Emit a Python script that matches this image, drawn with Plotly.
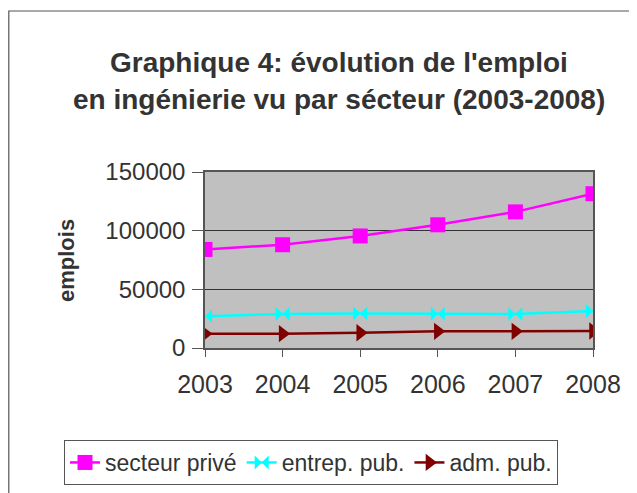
import plotly.graph_objects as go

years = ["2003", "2004", "2005", "2006", "2007", "2008"]
prive = [84000, 88000, 95500, 105000, 116000, 131500]
entrep = [27000, 29000, 29500, 29200, 29000, 31500]
adm = [12200, 12200, 13000, 14200, 14200, 14500]
y_ticks = [0, 50000, 100000, 150000]

# page body has an 8px margin; layout is computed in screen pixels then shifted
OFF = 8
W, H = 637, 493
L, R, T, B = 205 - OFF, 637 - (593 - OFF), 172 - OFF, 493 - (348 - OFF)
pw, ph = W - L - R, H - T - B

def px_x(p):
    return (p - OFF - L) / pw

def px_y(p):
    return (H - B - (p - OFF)) / ph

fig = go.Figure()
fig.add_trace(go.Scatter(x=years, y=prive, name="secteur privé", mode="lines+markers",
                         line=dict(color="#ff00ff", width=2.5),
                         marker=dict(symbol="square", size=15, color="#ff00ff")))
fig.add_trace(go.Scatter(x=years, y=entrep, name="entrep. pub.", mode="lines+markers",
                         line=dict(color="#00ffff", width=2.5),
                         marker=dict(symbol="bowtie", size=14, color="#00ffff")))
fig.add_trace(go.Scatter(x=years, y=adm, name="adm. pub.", mode="lines+markers",
                         line=dict(color="#800000", width=2.5),
                         marker=dict(symbol="triangle-right", size=15, color="#800000")))

font = "Liberation Sans, Arial, sans-serif"
fig.update_layout(
    width=W, height=H,
    margin=dict(l=L, r=R, t=T, b=B),
    paper_bgcolor="white", plot_bgcolor="#c0c0c0",
    font=dict(family=font, color="#333333", size=22),
    showlegend=True,
    legend=dict(orientation="h", x=px_x(64), y=px_y(440), xanchor="left", yanchor="top",
                bordercolor="#555555", borderwidth=1, font=dict(size=23, color="#333333"),
                itemwidth=30, tracegroupgap=0),
    xaxis=dict(type="category", range=[0, 5], showgrid=False, showline=True, linecolor="#555555",
               linewidth=1.5, mirror=True, ticks="outside", ticklen=7, tickcolor="#555555",
               tickfont=dict(size=25), zeroline=False, ticklabelstandoff=6),
    yaxis=dict(range=[0, 150000], tickvals=y_ticks, ticktext=[str(v) for v in y_ticks],
               showgrid=True, gridcolor="#333333", gridwidth=1, showline=True,
               linecolor="#555555", linewidth=1.5, mirror=True, ticks="outside", ticklen=11,
               tickcolor="#555555", tickfont=dict(size=24), zeroline=False,
               ticklabelstandoff=2),
    shapes=[dict(type="rect", xref="paper", yref="paper",
                 x0=px_x(OFF + 0.8), x1=px_x(680), y0=px_y(540), y1=px_y(11),
                 line=dict(color="#555555", width=1.2), fillcolor="rgba(0,0,0,0)", layer="below")],
    annotations=[
        dict(text="<b>Graphique 4: évolution de l'emploi</b>", xref="paper", yref="paper",
             x=px_x(339), y=px_y(63), xanchor="center", yanchor="middle", showarrow=False,
             font=dict(size=28, color="#333333")),
        dict(text="<b>en ingénierie vu par sécteur (2003-2008)</b>", xref="paper", yref="paper",
             x=px_x(339), y=px_y(100), xanchor="center", yanchor="middle", showarrow=False,
             font=dict(size=28, color="#333333")),
        dict(text="<b>emplois</b>", xref="paper", yref="paper", x=px_x(66), y=px_y(261),
             xanchor="center", yanchor="middle", showarrow=False, textangle=-90,
             font=dict(size=22, color="#333333")),
    ],
)

fig.write_html("out.html")
